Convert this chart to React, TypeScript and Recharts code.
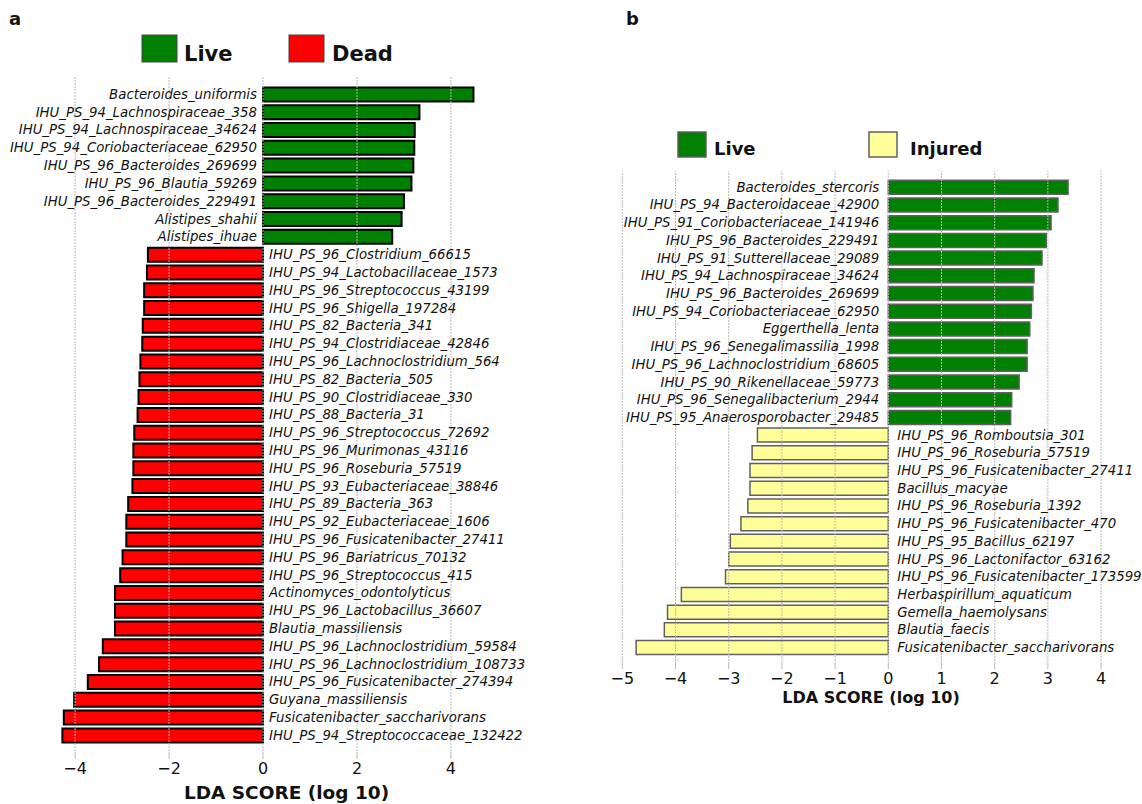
import { BarChart, Bar, XAxis, YAxis, ReferenceLine, Cell, LabelList, Label } from 'recharts';

const FONT = '"DejaVu Sans", sans-serif';

// panel a : Live vs Dead
const aLiveNames = [
  'Bacteroides_uniformis',
  'IHU_PS_94_Lachnospiraceae_358',
  'IHU_PS_94_Lachnospiraceae_34624',
  'IHU_PS_94_Coriobacteriaceae_62950',
  'IHU_PS_96_Bacteroides_269699',
  'IHU_PS_96_Blautia_59269',
  'IHU_PS_96_Bacteroides_229491',
  'Alistipes_shahii',
  'Alistipes_ihuae',
];
const aLiveScores = [4.48, 3.33, 3.23, 3.22, 3.2, 3.16, 3.0, 2.95, 2.75];

const aDeadNames = [
  'IHU_PS_96_Clostridium_66615',
  'IHU_PS_94_Lactobacillaceae_1573',
  'IHU_PS_96_Streptococcus_43199',
  'IHU_PS_96_Shigella_197284',
  'IHU_PS_82_Bacteria_341',
  'IHU_PS_94_Clostridiaceae_42846',
  'IHU_PS_96_Lachnoclostridium_564',
  'IHU_PS_82_Bacteria_505',
  'IHU_PS_90_Clostridiaceae_330',
  'IHU_PS_88_Bacteria_31',
  'IHU_PS_96_Streptococcus_72692',
  'IHU_PS_96_Murimonas_43116',
  'IHU_PS_96_Roseburia_57519',
  'IHU_PS_93_Eubacteriaceae_38846',
  'IHU_PS_89_Bacteria_363',
  'IHU_PS_92_Eubacteriaceae_1606',
  'IHU_PS_96_Fusicatenibacter_27411',
  'IHU_PS_96_Bariatricus_70132',
  'IHU_PS_96_Streptococcus_415',
  'Actinomyces_odontolyticus',
  'IHU_PS_96_Lactobacillus_36607',
  'Blautia_massiliensis',
  'IHU_PS_96_Lachnoclostridium_59584',
  'IHU_PS_96_Lachnoclostridium_108733',
  'IHU_PS_96_Fusicatenibacter_274394',
  'Guyana_massiliensis',
  'Fusicatenibacter_saccharivorans',
  'IHU_PS_94_Streptococcaceae_132422',
];
const aDeadScores = [
  -2.45, -2.47, -2.53, -2.53, -2.56, -2.57, -2.61, -2.63, -2.65, -2.67, -2.74, -2.76, -2.76, -2.78,
  -2.87, -2.91, -2.91, -2.99, -3.04, -3.15, -3.15, -3.15, -3.41, -3.49, -3.73, -4.02, -4.24, -4.27,
];
const aTicks = [-4, -2, 0, 2, 4];

// panel b : Live vs Injured
const bLiveNames = [
  'Bacteroides_stercoris',
  'IHU_PS_94_Bacteroidaceae_42900',
  'IHU_PS_91_Coriobacteriaceae_141946',
  'IHU_PS_96_Bacteroides_229491',
  'IHU_PS_91_Sutterellaceae_29089',
  'IHU_PS_94_Lachnospiraceae_34624',
  'IHU_PS_96_Bacteroides_269699',
  'IHU_PS_94_Coriobacteriaceae_62950',
  'Eggerthella_lenta',
  'IHU_PS_96_Senegalimassilia_1998',
  'IHU_PS_96_Lachnoclostridium_68605',
  'IHU_PS_90_Rikenellaceae_59773',
  'IHU_PS_96_Senegalibacterium_2944',
  'IHU_PS_95_Anaerosporobacter_29485',
];
const bLiveScores = [3.38, 3.19, 3.06, 2.97, 2.89, 2.74, 2.72, 2.69, 2.66, 2.61, 2.61, 2.46, 2.32, 2.3];

const bInjuredNames = [
  'IHU_PS_96_Romboutsia_301',
  'IHU_PS_96_Roseburia_57519',
  'IHU_PS_96_Fusicatenibacter_27411',
  'Bacillus_macyae',
  'IHU_PS_96_Roseburia_1392',
  'IHU_PS_96_Fusicatenibacter_470',
  'IHU_PS_95_Bacillus_62197',
  'IHU_PS_96_Lactonifactor_63162',
  'IHU_PS_96_Fusicatenibacter_173599',
  'Herbaspirillum_aquaticum',
  'Gemella_haemolysans',
  'Blautia_faecis',
  'Fusicatenibacter_saccharivorans',
];
const bInjuredScores = [-2.46, -2.56, -2.6, -2.6, -2.64, -2.77, -2.97, -3.0, -3.06, -3.89, -4.15, -4.21, -4.74];
const bTicks = [-5, -4, -3, -2, -1, 0, 1, 2, 3, 4];

type Row = { name: string; score: number; group: number };

function buildRows(n1: string[], s1: number[], n2: string[], s2: number[]): Row[] {
  return [
    ...n1.map((name, i) => ({ name, score: s1[i], group: 0 })),
    ...n2.map((name, i) => ({ name, score: s2[i], group: 1 })),
  ];
}

const aRows = buildRows(aLiveNames, aLiveScores, aDeadNames, aDeadScores);
const bRows = buildRows(bLiveNames, bLiveScores, bInjuredNames, bInjuredScores);

const fmtTick = (v: number) => (v < 0 ? `\u2212${Math.abs(v)}` : `${v}`);

function makeLabel(rows: Row[], gap: number) {
  return (props: any) => {
    const x = Number(props.x);
    const w = Number(props.width);
    const y = Number(props.y);
    const h = Number(props.height);
    const row = rows[props.index];
    if (!row) return null;
    const left = Math.min(x, x + w);
    const right = Math.max(x, x + w);
    const pos = row.score >= 0;
    return (
      <text
        x={pos ? left - gap : right + gap}
        y={y + h / 2}
        textAnchor={pos ? 'end' : 'start'}
        dominantBaseline="central"
        fontFamily={FONT}
        fontStyle="italic"
        fontSize={13.3}
        fill="#111"
      >
        {row.name}
      </text>
    );
  };
}

type PanelProps = {
  rows: Row[];
  colors: string[];
  edge: string;
  edgeWidth: number;
  left: number;
  width: number;
  height: number;
  margin: { top: number; right: number; bottom: number; left: number };
  domain: [number, number];
  ticks: number[];
  pad: number;
  titleSize: number;
  titleOffset: number;
  labelGap: number;
};

function Panel(p: PanelProps) {
  return (
    <div style={{ position: 'absolute', left: p.left, top: 0 }}>
      <BarChart width={p.width} height={p.height} data={p.rows} layout="vertical" margin={p.margin} barCategoryGap="10%">
        {p.ticks.map((t) => (
          <ReferenceLine key={`g${t}`} x={t} stroke="#b8b8b8" strokeWidth={1} strokeDasharray="2 1" />
        ))}
        <XAxis
          type="number"
          dataKey="score"
          domain={p.domain}
          ticks={p.ticks}
          allowDataOverflow
          tickFormatter={fmtTick}
          axisLine={false}
          tickLine={{ stroke: '#b8b8b8' }}
          tickSize={5}
          tickMargin={4}
          height={50}
          tick={{ fill: '#111', fontSize: 16, fontFamily: FONT }}
        >
          <Label
            value="LDA SCORE (log 10)"
            position="insideBottom"
            offset={p.titleOffset}
            style={{ fontFamily: FONT, fontWeight: 'bold', fontSize: p.titleSize, fill: '#111' }}
          />
        </XAxis>
        <YAxis type="category" dataKey="name" hide padding={{ top: p.pad, bottom: p.pad }} />
        <Bar dataKey="score" stroke={p.edge} strokeWidth={p.edgeWidth} isAnimationActive={false}>
          {p.rows.map((r, i) => (
            <Cell key={`${r.name}-${i}`} fill={p.colors[r.group]} />
          ))}
          <LabelList dataKey="score" content={makeLabel(p.rows, p.labelGap)} />
        </Bar>
      </BarChart>
    </div>
  );
}

const aLegend = ['Live', 'Dead'];
const aColors = ['#008000', '#ff0000'];
const bLegend = ['Live', 'Injured'];
const bColors = ['#008000', '#ffff99'];

export default function App() {
  return (
    <div style={{ position: 'absolute', left: 0, top: 0, width: 1142, height: 804, background: '#fff', overflow: 'hidden' }}>
      <Panel
        rows={aRows}
        colors={aColors}
        edge="#000"
        edgeWidth={2}
        left={0}
        width={560}
        height={804}
        margin={{ top: 76, right: 48, bottom: 0, left: 61 }}
        domain={[-4.3, 5.3]}
        ticks={aTicks}
        pad={9.6}
        titleSize={18.5}
        titleOffset={5}
        labelGap={6}
      />
      <Panel
        rows={bRows}
        colors={bColors}
        edge="#606060"
        edgeWidth={1.5}
        left={580}
        width={562}
        height={714}
        margin={{ top: 171, right: 17, bottom: 0, left: 37 }}
        domain={[-5.1, 4.45]}
        ticks={bTicks}
        pad={7.5}
        titleSize={16}
        titleOffset={11}
        labelGap={9}
      />
      <svg width={1142} height={804} style={{ position: 'absolute', left: 0, top: 0, pointerEvents: 'none' }}>
        <g fontFamily={FONT} fontWeight="bold" fill="#111">
          <text x={9} y={25} fontSize={18}>a</text>
          <text x={626} y={25} fontSize={18}>b</text>
          {aLegend.map((name, i) => (
            <g key={name}>
              <rect x={142 + i * 147} y={35} width={35} height={27} fill={aColors[i]} stroke="#444" strokeWidth={1} />
              <text x={184 + i * 148} y={61} fontSize={21}>{name}</text>
            </g>
          ))}
          {bLegend.map((name, i) => (
            <g key={name}>
              <rect x={678 + i * 191} y={132} width={28} height={25} fill={bColors[i]} stroke="#606060" strokeWidth={1.5} />
              <text x={714 + i * 196} y={155} fontSize={18}>{name}</text>
            </g>
          ))}
        </g>
      </svg>
    </div>
  );
}
